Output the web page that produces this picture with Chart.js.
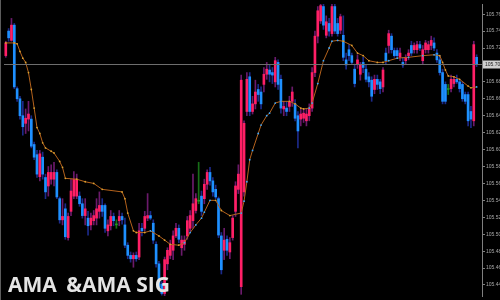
<!DOCTYPE html>
<html>
<head>
<meta charset="utf-8">
<script src="https://cdn.jsdelivr.net/npm/chart.js@4"></script>
<style>
  html, body { margin: 0; padding: 0; background: #000; }
  #wrap { position: relative; width: 500px; height: 300px; overflow: hidden; }
  #title {
    position: absolute; left: 8px; top: 274px;
    color: #e4e4e4; font: bold 21px "Open Sans", sans-serif;
    line-height: 21px; white-space: pre;
  }
  #title span { margin-left: 4px; }
</style>
</head>
<body>
<div id="wrap">
  <canvas id="chart" width="500" height="300"></canvas>
  <div id="title">AMA <span>&amp;AMA SIG</span></div>
</div>
<script>
// bar data, oldest first
var opens = [
  105.711,105.740,105.729,105.747,105.672,105.660,105.640,105.631,105.636,105.636,
  105.606,105.594,105.568,105.591,105.567,105.557,105.565,105.565,105.573,105.542,
  105.517,105.530,105.496,105.527,105.545,105.545,105.545,105.536,105.522,105.519,
  105.511,105.516,105.519,105.527,105.534,105.534,105.504,105.510,105.521,105.511,
  105.516,105.521,105.511,105.487,105.475,105.471,105.475,105.473,105.507,105.507,
  105.519,105.522,105.513,105.488,105.465,105.441,105.430,105.465,105.475,105.481,
  105.498,105.507,105.484,105.488,105.498,105.507,105.516,105.528,105.539,105.545,
  105.542,105.559,105.573,105.563,105.553,105.542,105.498,105.481,105.494,105.479,
  105.496,105.527,105.553,105.438,105.550,105.645,105.686,105.645,105.654,105.671,
  105.668,105.677,105.689,105.694,105.691,105.680,105.703,105.683,105.648,105.649,
  105.651,105.657,105.654,105.640,105.636,105.637,105.634,105.640,105.649,105.691,
  105.734,105.752,105.769,105.735,105.749,105.737,105.769,105.749,105.741,105.735,
  105.706,105.718,105.711,105.695,105.701,105.689,105.703,105.695,105.686,105.682,
  105.671,105.683,105.680,105.674,105.714,105.723,105.734,105.717,105.717,105.709,
  105.703,105.705,105.711,105.723,105.718,105.718,105.724,105.705,105.718,105.718,
  105.723,105.726,105.714,105.706,105.691,105.677,105.671,105.672,105.678,105.683,
  105.680,105.677,105.665,105.665,105.645,105.634,105.709
];
var highs = [
  105.728,105.743,105.755,105.749,105.674,105.663,105.657,105.648,105.657,105.640,
  105.609,105.599,105.599,105.597,105.571,105.580,105.582,105.585,105.576,105.544,
  105.542,105.536,105.525,105.565,105.574,105.571,105.550,105.542,105.542,105.527,
  105.525,105.528,105.542,105.550,105.542,105.536,105.517,105.528,105.525,105.517,
  105.528,105.525,105.519,105.490,105.479,105.478,105.479,105.513,105.513,105.527,
  105.548,105.527,105.517,105.491,105.468,105.444,105.473,105.484,105.493,105.504,
  105.513,105.511,105.498,105.498,105.521,105.528,105.571,105.548,105.585,105.551,
  105.565,105.576,105.579,105.567,105.558,105.544,105.502,105.507,105.498,105.496,
  105.522,105.562,105.582,105.688,105.634,105.691,105.691,105.663,105.682,105.677,
  105.674,105.697,105.703,105.700,105.697,105.709,105.706,105.688,105.657,105.657,
  105.663,105.674,105.659,105.645,105.648,105.648,105.648,105.654,105.697,105.740,
  105.769,105.772,105.772,105.758,105.755,105.772,105.772,105.755,105.760,105.758,
  105.714,105.724,105.714,105.701,105.712,105.703,105.709,105.700,105.691,105.686,
  105.688,105.688,105.683,105.697,105.720,105.741,105.737,105.720,105.720,105.720,
  105.709,105.712,105.718,105.728,105.726,105.728,105.728,105.723,105.729,105.728,
  105.734,105.732,105.718,105.711,105.695,105.680,105.677,105.688,105.686,105.688,
  105.683,105.680,105.668,105.668,105.651,105.728,105.712
];
var lows = [
  105.709,105.728,105.728,105.672,105.657,105.636,105.617,105.619,105.622,105.602,
  105.588,105.567,105.563,105.565,105.542,105.545,105.559,105.557,105.542,105.513,
  105.511,105.494,105.493,105.522,105.542,105.542,105.533,105.519,105.511,105.499,
  105.505,105.511,105.511,105.519,105.521,105.502,105.498,105.505,105.510,105.507,
  105.510,105.512,105.484,105.471,105.467,105.461,105.468,105.470,105.498,105.504,
  105.516,105.517,105.489,105.461,105.435,105.428,105.427,105.458,105.471,105.470,
  105.496,105.490,105.475,105.481,105.494,105.504,105.507,105.525,105.536,105.522,
  105.536,105.553,105.558,105.545,105.542,105.496,105.453,105.470,105.475,105.471,
  105.493,105.521,105.548,105.429,105.545,105.640,105.640,105.642,105.648,105.657,
  105.648,105.668,105.683,105.680,105.678,105.674,105.671,105.643,105.640,105.640,
  105.645,105.651,105.634,105.602,105.628,105.632,105.628,105.634,105.645,105.686,
  105.726,105.749,105.742,105.732,105.734,105.734,105.737,105.734,105.737,105.705,
  105.695,105.705,105.701,105.674,105.696,105.682,105.691,105.680,105.674,105.657,
  105.666,105.671,105.666,105.668,105.701,105.714,105.714,105.709,105.709,105.705,
  105.697,105.701,105.706,105.711,105.714,105.714,105.717,105.701,105.714,105.714,
  105.718,105.717,105.703,105.688,105.654,105.654,105.665,105.668,105.674,105.678,
  105.668,105.657,105.654,105.628,105.626,105.628,105.698
];
var closes = [
  105.726,105.732,105.747,105.674,105.660,105.640,105.627,105.637,105.642,105.604,
  105.591,105.571,105.595,105.571,105.550,105.573,105.573,105.573,105.544,105.517,
  105.521,105.497,105.521,105.551,105.565,105.565,105.536,105.522,105.530,105.510,
  105.519,105.522,105.530,105.534,105.527,105.507,105.511,105.521,105.516,105.511,
  105.521,105.517,105.487,105.475,105.471,105.475,105.471,105.504,105.504,105.521,
  105.522,105.519,105.493,105.465,105.438,105.430,105.470,105.481,105.488,105.498,
  105.507,105.494,105.493,105.493,105.516,105.522,105.536,105.542,105.539,105.527,
  105.559,105.573,105.563,105.550,105.544,105.499,105.458,105.493,105.481,105.490,
  105.519,105.557,105.571,105.682,105.631,105.683,105.645,105.654,105.668,105.665,
  105.654,105.689,105.695,105.689,105.688,105.705,105.677,105.649,105.651,105.645,
  105.657,105.668,105.637,105.622,105.642,105.643,105.642,105.649,105.691,105.734,
  105.764,105.770,105.747,105.751,105.740,105.769,105.740,105.737,105.757,105.709,
  105.700,105.711,105.703,105.678,105.706,105.700,105.697,105.683,105.680,105.663,
  105.683,105.677,105.672,105.694,105.705,105.737,105.718,105.711,105.711,105.714,
  105.700,105.709,105.714,105.714,105.723,105.724,105.720,105.718,105.726,105.724,
  105.729,105.720,105.706,105.691,105.657,105.657,105.671,105.683,105.683,105.680,
  105.672,105.660,105.657,105.634,105.636,105.724,105.701
];

// AMA line, read at bar positions
var amaBar = [0,3,4,5,6,7,8,9,10,11,12,13,14,16,17,19,20,21,25,28,31,34,41,42,43,45,46,49,51,54,56,58,61,63,65,67,69,70,72,74,76,79,83,84,85,86,87,89,90,92,93,95,97,100,102,104,105,107,108,110,112,114,115,117,119,122,124,126,128,131,133,135,138,142,147,151,153,154,155,156,158,160,163,164,166];
var amaVal = [105.726,105.726,105.725,105.716,105.708,105.703,105.691,105.671,105.649,105.626,105.619,105.608,105.602,105.598,105.596,105.586,105.579,105.566,105.565,105.562,105.560,105.553,105.550,105.542,105.525,105.504,105.502,105.502,105.504,105.498,105.493,105.488,105.487,105.490,105.502,105.511,105.519,105.526,105.540,105.540,105.528,105.522,105.525,105.539,105.562,105.588,105.599,105.619,105.629,105.640,105.643,105.655,105.657,105.657,105.654,105.649,105.648,105.649,105.655,105.678,105.705,105.720,105.728,105.729,105.728,105.723,105.714,105.711,105.705,105.703,105.703,105.705,105.708,105.709,105.711,105.712,105.711,105.703,105.694,105.687,105.686,105.683,105.675,105.673,105.674];

var tickValues = [105.760,105.740,105.720,105.700,105.680,105.660,105.640,105.620,105.600,105.580,105.560,105.540,105.520,105.500,105.480,105.460,105.440];
var bidPrice = 105.701;
var yMin = 105.427, yMax = 105.772;

var upColor = '#ff1f66', downColor = '#1e90ff', dojiColor = '#1f9a1f';
var upWick = '#6b1a6b', downWick = '#1c2a8a', dojiWick = '#176e17';

var idx = opens.map(function (v, i) { return i; });
function pick(i, a, b, c) {
  return closes[i] > opens[i] ? a : (closes[i] < opens[i] ? b : c);
}

var priceLine = {
  id: 'priceLine',
  afterDatasetsDraw: function (chart) {
    var ctx = chart.ctx, area = chart.chartArea, y = Math.round(chart.scales.y.getPixelForValue(bidPrice)) + 0.5;
    ctx.save();
    ctx.strokeStyle = '#5c5c5c';
    ctx.lineWidth = 1;
    ctx.beginPath();
    ctx.moveTo(0.5, 0); ctx.lineTo(0.5, chart.height);
    ctx.stroke();
    ctx.strokeStyle = '#6e6e6e';
    ctx.beginPath();
    ctx.moveTo(area.left, y); ctx.lineTo(area.right, y);
    ctx.stroke();
    ctx.fillStyle = '#cfcfcf';
    ctx.fillRect(area.right + 1, y - 4, 30, 8);
    ctx.fillStyle = '#222';
    ctx.font = '5px "Liberation Sans"';
    ctx.textBaseline = 'middle';
    ctx.fillText(bidPrice.toFixed(3), area.right + 3, y);
    ctx.restore();
  }
};

new Chart(document.getElementById('chart'), {
  type: 'bar',
  data: {
    datasets: [{
      type: 'line',
      data: amaBar.map(function (x, k) { return { x: x, y: amaVal[k] }; }),
      borderColor: '#b4621c',
      borderWidth: 1,
      pointRadius: 0.9,
      pointBorderWidth: 0,
      pointBackgroundColor: function (c) {
        var k = c.dataIndex;
        return k > 0 && amaVal[k] > amaVal[k - 1] ? '#3aa8ff' : '#d9a030';
      },
      tension: 0,
      order: 0
    }, {
      data: idx.map(function (i) { return { x: i, y: [opens[i], closes[i]] }; }),
      backgroundColor: idx.map(function (i) { return pick(i, upColor, downColor, dojiColor); }),
      barThickness: 2,
      minBarLength: 1,
      grouped: false,
      order: 1
    }, {
      data: idx.map(function (i) { return { x: i, y: [lows[i], highs[i]] }; }),
      backgroundColor: idx.map(function (i) { return pick(i, upWick, downWick, dojiWick); }),
      barThickness: 1,
      grouped: false,
      order: 2
    }]
  },
  options: {
    responsive: false,
    animation: false,
    layout: { padding: 0 },
    plugins: { legend: { display: false }, tooltip: { enabled: false } },
    scales: {
      x: { type: 'linear', display: false, offset: false, min: -0.63, max: 167.9 },
      y: {
        position: 'right',
        min: yMin,
        max: yMax,
        afterBuildTicks: function (s) { s.ticks = tickValues.map(function (v) { return { value: v }; }); },
        afterFit: function (s) { s.width = 18; },
        ticks: {
          color: '#a8a8a8',
          padding: 1,
          autoSkip: false,
          font: { size: 5, family: 'Liberation Sans' },
          callback: function (v) { return Number(v).toFixed(3); }
        },
        grid: { drawOnChartArea: false, drawTicks: true, tickLength: 3, color: '#7f7f7f' },
        border: { display: true, color: '#7f7f7f' }
      }
    }
  },
  plugins: [priceLine]
});
</script>
</body>
</html>
